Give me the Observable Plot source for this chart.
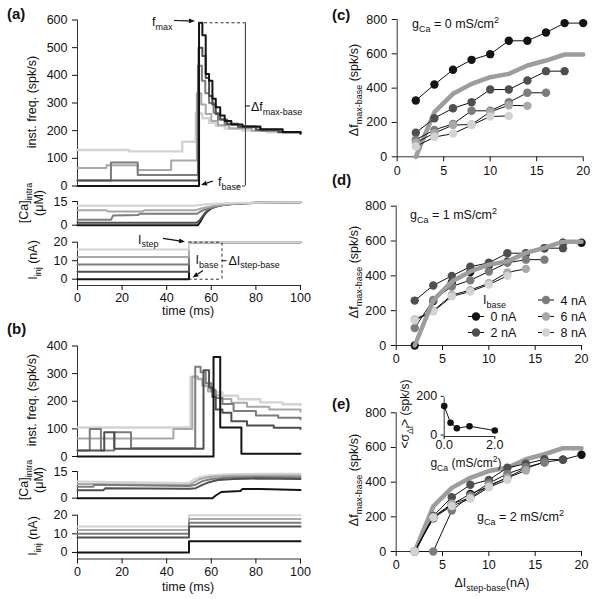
<!DOCTYPE html>
<html><head><meta charset="utf-8">
<script src="https://cdn.jsdelivr.net/npm/d3@7"></script>
<script src="https://cdn.jsdelivr.net/npm/@observablehq/plot@0.6"></script>
<style>
body{margin:0;background:#fff}
#fig{position:relative;width:600px;height:599px;overflow:hidden;background:#fff;font-family:"Liberation Sans",Arial,Helvetica,sans-serif}
#fig svg{position:absolute;left:0;top:0}
#ov text{font-family:"Liberation Sans",Arial,Helvetica,sans-serif}
</style></head><body><div id="fig"></div>
<script>
// ================= DATA =================
const aIbase = [0, 4, 8, 12, 16];
const aIstep = [20, 20, 20, 20, 20];
const bIbase = [0, 8, 10, 12, 14];
const bIstep = [6, 14, 16, 18, 20];
const stepTime = 50;

// panel (a) traces: [time ms, value]
const aFreqIb0  = [[0,0],[54.5,590],[56,545],[57.5,405],[59,380],[60.5,315],[62,285],[64,255],[66,235],[69,222],[74,215],[82,205],[92,195],[100,190]];
const aFreqIb4  = [[0,20],[54.3,500],[56,470],[57.5,390],[59,325],[60.5,295],[62,260],[64,240],[67,225],[72,215],[80,203],[90,195],[100,190]];
const aFreqIb8  = [[0,20],[15,85],[27,40],[54,435],[55.8,380],[57.3,335],[59,300],[61,265],[63,240],[66,222],[72,212],[82,200],[92,193],[100,190]];
const aFreqIb12 = [[0,65],[13,75],[27,58],[42,92],[53.5,335],[55.5,295],[57.5,260],[60,235],[63,220],[68,208],[78,200],[90,193],[100,190]];
const aFreqIb16 = [[0,130],[23,125],[47,160],[53,262],[56,245],[59,228],[62,218],[66,208],[74,200],[85,194],[100,190]];

const aCaIb0  = [[0,0],[54,0],[55,2],[56,4.5],[57,6.8],[58,8.5],[60,10.6],[62,11.8],[65,12.8],[70,13.6],[80,14.2],[100,14.5]];
const aCaIb4  = [[0,1.6],[53.5,1.6],[55,3.5],[56,5.5],[57,7.3],[58,8.8],[60,10.7],[62,11.9],[65,12.8],[70,13.6],[80,14.2],[100,14.5]];
const aCaIb8  = [[0,3.4],[15,3.4],[16,6.2],[27,6.4],[28,7.2],[53.5,7.2],[55,8.5],[57,9.8],[60,11],[63,12.2],[67,13.1],[75,13.9],[85,14.3],[100,14.5]];
const aCaIb12 = [[0,9.4],[13,9.4],[14,8.6],[29,8.6],[30,9.4],[53,9.4],[55,10.4],[58,11.4],[61,12.2],[65,13],[72,13.7],[85,14.3],[100,14.5]];
const aCaIb16 = [[0,12.3],[52,12.3],[55,12.8],[58,13.2],[62,13.6],[70,14],[85,14.4],[100,14.5]];

// panel (b) traces
const bFreqIb0  = [[0,0],[61,360],[64,105],[73.5,10],[100,10]];
const bFreqIb8  = [[0,22],[12,88],[16.5,28],[56.5,312],[59,250],[60.5,215],[62,170],[65,158],[69,128],[76,112],[88,104],[100,100]];
const bFreqIb10 = [[0,22],[5.5,100],[10.5,22],[16.5,88],[24,30],[52.8,325],[55.2,305],[57.5,265],[60,240],[62,212],[65,190],[70,165],[80,148],[90,140],[100,135]];
const bFreqIb12 = [[0,65],[43,100],[51.5,290],[54,280],[56,255],[58.5,235],[61,222],[64,208],[69,195],[76,180],[86,170],[100,162]];
const bFreqIb14 = [[0,105],[50.7,288],[53.5,282],[56,260],[58.5,245],[61.5,232],[65,220],[72,207],[82,196],[92,189],[100,186]];

const bCaIb0  = [[0,0],[60.5,0],[62,1.5],[64.5,3.5],[73,4],[74,5.2],[82,5.1],[100,4.6]];
const bCaIb8  = [[0,4.4],[11.5,4.4],[12.5,5.6],[50,5.3],[53,5.6],[56,7.5],[59,9],[63,10.2],[70,10.8],[80,11],[100,10.8]];
const bCaIb10 = [[0,6.4],[7,6.4],[7.5,7.6],[50,6.8],[53,7.6],[56,9.6],[60,10.8],[68,11.6],[80,11.9],[100,11.8]];
const bCaIb12 = [[0,8],[50,7.4],[52,8.8],[55,10.8],[59,11.9],[66,12.5],[80,12.8],[100,12.8]];
const bCaIb14 = [[0,9.4],[50,8.5],[51.5,10],[54.5,11.8],[59,12.8],[67,13.4],[80,13.7],[100,13.8]];

// panels (c)-(e): Δf_max-base vs ΔI_step-base
const ibaseLabels = ["0 nA", "2 nA", "4 nA", "6 nA", "8 nA"];
const dIstep = [2, 4, 6, 8, 10, 12, 14, 16, 18, 20];
const refCurve = [0, 260, 367, 425, 464, 483, 532, 561, 596, 596];

const c0 = [328, 421, 507, 565, 598, 676, 676, 724, 779, 779];
const c2 = [140, 225, 283, 318, 392, 392, 445, 499, 499];
const c4 = [99, 157, 192, 268, 268, 318, 373, 373];
const c6 = [82, 138, 185, 188, 262, 300, 297];
const c8 = [60, 115, 135, 185, 235, 238];

const d0 = [0, 255, 362, 422, 460, 481, 528, 558, 590, 590];
const d2 = [258, 345, 400, 452, 475, 530, 530, 559, 559];
const d4 = [100, 262, 339, 375, 425, 475, 493, 493];
const d6 = [150, 200, 290, 318, 358, 420, 440];
const d8 = [145, 195, 282, 310, 350, 400];

const e0 = [0, 192, 272, 332, 375, 428, 480, 515, 530, 558];
const e2 = [0, 205, 313, 385, 413, 483, 506, 532, 529];
const e4 = [0, 0, 236, 323, 394, 448, 486, 515];
const e6 = [0, 200, 275, 310, 381, 425, 467];
const e8 = [0, 195, 262, 304, 371, 413];

const gCaInset = [0, 0.25, 0.5, 1, 2];
const sigmaInset = [157, 71, 43, 53, 31];

// ================= LAYOUT / STYLE =================
const fig = document.getElementById("fig");
const W = 600, H = 599;
const FONT = '"Liberation Sans", Arial, Helvetica, sans-serif';
const AX = "#333";
const shades = ["#141414", "#4f4f4f", "#7c7c7c", "#a8a8a8", "#d3d3d3"];
const REF = "#9d9d9d";

function box(x0, x1, y0, y1) { return {marginLeft: x0, marginRight: W - x1, marginTop: y0, marginBottom: H - y1}; }
function plot(b, o) {
  const p = Plot.plot({width: W, height: H, ...b,
    style: {background: "transparent", fontFamily: FONT, fontSize: "12.5px", color: "#111", overflow: "visible"},
    ...o, marks: o.marks.filter(Boolean)});
  fig.appendChild(p);
  return p;
}
const tx = d => d[0], ty = d => d[1];
const yAx = (ticks, extra = {}) => Plot.axisY({ticks, tickSize: 5, tickPadding: 5, label: null, ...extra});
const xAx = (ticks, extra = {}) => Plot.axisX({ticks, tickSize: 5, tickPadding: 3, label: null, ...extra});
const traceLines = (traces, order, widths) => order.map(i =>
  Plot.line(traces[i], {x: tx, y: ty, curve: "step-after", stroke: shades[i], strokeWidth: widths ? widths[i] : 2}));
const smoothLines = (traces, order) => order.map(i =>
  Plot.line(traces[i], {x: tx, y: ty, stroke: shades[i], strokeWidth: 2}));
const injRows = (base, step) => base.map((b, i) => [[0, b], [stepTime, step[i]], [100, step[i]]]);
const dash = {stroke: "#333", strokeWidth: 1, strokeDasharray: "3,2.5"};

// ---- panel (a) ----
const aFreq = [aFreqIb0, aFreqIb4, aFreqIb8, aFreqIb12, aFreqIb16];
const fmax = d3.max(aFreqIb0, ty);
const tPeak = aFreqIb0.find(d => d[1] === fmax)[0];
const tBracket = 75.3;
plot(box(77, 300, 19.5, 185.5), {
  x: {domain: [0, 100], axis: null}, y: {domain: [0, 600]},
  marks: [
    Plot.ruleX([0], {y1: 0, y2: 600, stroke: AX}),
    yAx(d3.range(0, 601, 100)),
    ...traceLines(aFreq, [4, 3, 2, 1, 0], [2, 2, 2, 2, 2.4]),
    Plot.ruleY([fmax], {x1: tPeak, x2: tBracket, ...dash}),
    Plot.ruleX([tBracket], {y1: 0, y2: fmax, stroke: "#333", strokeWidth: 1}),
    Plot.ruleY([0], {x1: 71.5, x2: tBracket, ...dash})
  ]
});
plot(box(77, 300, 201, 224.7), {
  x: {domain: [0, 100], axis: null}, y: {domain: [0, 15]},
  marks: [
    Plot.ruleX([0], {y1: 0, y2: 15, stroke: AX}),
    yAx([0, 15]),
    ...smoothLines([aCaIb0, aCaIb4, aCaIb8, aCaIb12, aCaIb16], [0, 1, 2, 3, 4])
  ]
});
plot(box(77, 300, 241.7, 285), {
  x: {domain: [0, 100]}, y: {domain: [-3.4, 20]},
  marks: [
    Plot.ruleX([0], {y1: -3.4, y2: 20, stroke: AX}),
    Plot.ruleY([-3.4], {x1: 0, x2: 100, stroke: AX}),
    yAx([0, 10, 20]), xAx(d3.range(0, 101, 20)),
    ...traceLines(injRows(aIbase, aIstep), [0, 1, 2, 3, 4]),
    Plot.ruleY([d3.max(aIstep)], {x1: stepTime, x2: 64.8, ...dash}),
    Plot.ruleY([0], {x1: stepTime, x2: 64.8, ...dash}),
    Plot.ruleX([64.8], {y1: 0, y2: d3.max(aIstep), ...dash})
  ]
});

// ---- panel (b) ----
const bFreq = [bFreqIb0, bFreqIb8, bFreqIb10, bFreqIb12, bFreqIb14];
plot(box(77, 300, 345.5, 456), {
  x: {domain: [0, 100], axis: null}, y: {domain: [0, 400]},
  marks: [
    Plot.ruleX([0], {y1: 0, y2: 400, stroke: AX}),
    yAx(d3.range(0, 401, 100)),
    ...traceLines(bFreq, [4, 3, 2, 1, 0], [2, 2, 2, 2, 2.4])
  ]
});
plot(box(77, 300, 471, 497.7), {
  x: {domain: [0, 100], axis: null}, y: {domain: [0, 15]},
  marks: [
    Plot.ruleX([0], {y1: 0, y2: 15, stroke: AX}),
    yAx([0, 15]),
    ...smoothLines([bCaIb0, bCaIb8, bCaIb10, bCaIb12, bCaIb14], [4, 3, 2, 1, 0])
  ]
});
plot(box(77, 300, 514.7, 558.5), {
  x: {domain: [0, 100]}, y: {domain: [-3.5, 20]},
  marks: [
    Plot.ruleX([0], {y1: -3.5, y2: 20, stroke: AX}),
    Plot.ruleY([-3.5], {x1: 0, x2: 100, stroke: AX}),
    yAx([0, 10, 20]), xAx(d3.range(0, 101, 20)),
    ...traceLines(injRows(bIbase, bIstep), [4, 3, 2, 1, 0])
  ]
});

// ---- panels (c)-(e) ----
function curvePanel(b, series, refOnTop) {
  const rows = series.flatMap((vals, s) => vals.map((v, i) => ({x: dIstep[i], y: v, s})));
  const ref = refCurve.map((v, i) => ({x: dIstep[i], y: v}));
  const refMark = Plot.line(ref, {x: "x", y: "y", stroke: REF, strokeWidth: 4.5, strokeLinejoin: "round"});
  return plot(b, {
    x: {domain: [0, 20]}, y: {domain: [0, 800]},
    marks: [
      Plot.ruleX([0], {y1: 0, y2: 800, stroke: AX}),
      Plot.ruleY([0], {x1: 0, x2: 20, stroke: AX}),
      yAx([0, 200, 400, 600, 800]),
      xAx([0, 5, 10, 15, 20], {tickPadding: 4}),
      refOnTop ? null : refMark,
      Plot.line(rows, {x: "x", y: "y", z: "s", stroke: "#111", strokeWidth: 1}),
      ...series.map((_, s) => Plot.dot(rows.filter(r => r.s === s), {x: "x", y: "y", r: 4.2, fill: shades[s], stroke: "none"})),
      refOnTop ? refMark : null
    ]
  });
}
curvePanel(box(396.7, 582.7, 19, 156.3), [c0, c2, c4, c6, c8], false);
curvePanel(box(395.7, 581, 205.7, 345), [d0, d2, d4, d6, d8], true);
curvePanel(box(395.7, 581, 412.3, 551), [e0, e2, e4, e6, e8], false);

// inset
const insetRows = gCaInset.map((g, i) => ({g, s: sigmaInset[i]}));
plot(box(443.7, 494.3, 397.3, 436), {
  x: {domain: [0, 2]}, y: {domain: [0, 200]},
  marks: [
    Plot.ruleX([0], {y1: 0, y2: 200, stroke: AX}),
    Plot.ruleY([0], {x1: 0, x2: 2, stroke: AX}),
    Plot.axisY({ticks: [0, 200], tickSize: 3, tickPadding: 4, label: null, dy: -1.5}),
    Plot.axisX({ticks: [0, 2], tickSize: 3, tickPadding: 1, label: null}),
    Plot.line(insetRows, {x: "g", y: "s", stroke: "#111", strokeWidth: 1}),
    Plot.dot(insetRows, {x: "g", y: "s", r: 3.3, fill: "#111", stroke: "none"})
  ]
});

// ================= TEXT / ANNOTATION OVERLAY =================
const ov = d3.select(fig).append("svg").attr("id", "ov").attr("width", W).attr("height", H)
  .style("font-family", FONT).style("font-weight", "400").attr("fill", "#111");

function rich(x, y, parts, {anchor = "start", size = 12.5, rotate = 0, weight = "400"} = {}) {
  const t = ov.append("text").style("font-size", size + "px").style("font-weight", weight)
    .attr("text-anchor", anchor).attr("transform", `translate(${x},${y}) rotate(${rotate})`);
  let shift = 0;
  for (const [s, k] of parts) {
    const target = k === "sub" ? size * 0.3 : k === "sup" ? -size * 0.4 : 0;
    const ts = t.append("tspan").text(s).attr("dy", target - shift);
    if (k !== "n") ts.style("font-size", (size * 0.72) + "px");
    shift = target;
  }
}
function arrow(x1, y1, x2, y2) {
  const a = Math.atan2(y2 - y1, x2 - x1), L = 6, w = 2.4;
  const bx = x2 - L * Math.cos(a), by = y2 - L * Math.sin(a);
  ov.append("line").attr("x1", x1).attr("y1", y1).attr("x2", bx).attr("y2", by).attr("stroke", "#111").attr("stroke-width", 1.2);
  ov.append("polygon").attr("points",
    `${x2},${y2} ${bx + w * Math.sin(a)},${by - w * Math.cos(a)} ${bx - w * Math.sin(a)},${by + w * Math.cos(a)}`).attr("fill", "#111");
}
function tick(x1, x2, y) { ov.append("line").attr("x1", x1).attr("x2", x2).attr("y1", y).attr("y2", y).attr("stroke", "#111"); }

// panel letters
[["(a)", 7, 19], ["(b)", 7, 334], ["(c)", 332, 20], ["(d)", 332, 185], ["(e)", 332, 409]]
  .forEach(([s, x, y]) => rich(x, y, [[s, "n"]], {size: 15, weight: "700"}));

// axis titles (a)/(b)
const R = {anchor: "middle", rotate: -90};
rich(36, 102, [["inst. freq. (spk/s)", "n"]], R);
rich(28, 203, [["[Ca]", "n"], ["intra", "sub"]], R);
rich(42.5, 203, [["(μM)", "n"]], R);
rich(37, 260, [["I", "n"], ["inj", "sub"], [" (nA)", "n"]], R);
rich(188, 315, [["time (ms)", "n"]], {anchor: "middle"});
rich(36, 400, [["inst. freq. (spk/s)", "n"]], R);
rich(28, 480, [["[Ca]", "n"], ["intra", "sub"]], R);
rich(42.5, 480, [["(μM)", "n"]], R);
rich(37, 536, [["I", "n"], ["inj", "sub"], [" (nA)", "n"]], R);
rich(188, 591, [["time (ms)", "n"]], {anchor: "middle"});

// annotations (a)
rich(152, 26, [["f", "n"], ["max", "sub"]]);
arrow(174, 20.5, 195, 21);
tick(245, 250, 106);
rich(251, 111, [["Δf", "n"], ["max-base", "sub"]]);
rich(218, 186, [["f", "n"], ["base", "sub"]]);
arrow(213, 181, 201, 185);
rich(138, 243.5, [["I", "n"], ["step", "sub"]]);
arrow(163, 238.3, 185, 241.7);
rich(195.5, 264, [["I", "n"], ["base", "sub"]]);
arrow(203, 270.5, 192.5, 277.5);
tick(221.7, 226.7, 260.7);
rich(228.5, 264.5, [["ΔI", "n"], ["step-base", "sub"]]);

// (c)-(e) titles
[90, 272, 480].forEach(y => rich(358, y, [["Δf", "n"], ["max-base", "sub"], [" (spk/s)", "n"]], R));
rich(412, 28, [["g", "n"], ["Ca", "sub"], [" = 0 mS/cm", "n"], ["2", "sup"]]);
rich(410, 219, [["g", "n"], ["Ca", "sub"], [" = 1 mS/cm", "n"], ["2", "sup"]]);
rich(477, 521, [["g", "n"], ["Ca", "sub"], [" = 2 mS/cm", "n"], ["2", "sup"]]);
rich(492, 587, [["ΔI", "n"], ["step-base", "sub"], ["(nA)", "n"]], {anchor: "middle"});
rich(409, 414, [["<σ", "n"], ["Δf", "sub"], ["> (spk/s)", "n"]], {anchor: "middle", rotate: -90, size: 12});
rich(466, 467, [["g", "n"], ["Ca", "sub"], [" (mS/cm", "n"], ["2", "sup"], [")", "n"]], {anchor: "middle", size: 12});

// legend (d)
rich(483, 304, [["I", "n"], ["base", "sub"]]);
const legPos = [[0, 1], [0, 2], [1, 0], [1, 1], [1, 2]];
const legRowY = [300, 316.5, 332.5], legColX = [468, 538];
ibaseLabels.forEach((lab, i) => {
  const [c, r] = legPos[i], x = legColX[c], y = legRowY[r];
  ov.append("line").attr("x1", x).attr("x2", x + 16).attr("y1", y).attr("y2", y).attr("stroke", "#111");
  ov.append("circle").attr("cx", x + 8).attr("cy", y).attr("r", 4.2).attr("fill", shades[i]);
  rich(x + 22.5, y + 4.5, [[lab, "n"]]);
});
</script></body></html>
